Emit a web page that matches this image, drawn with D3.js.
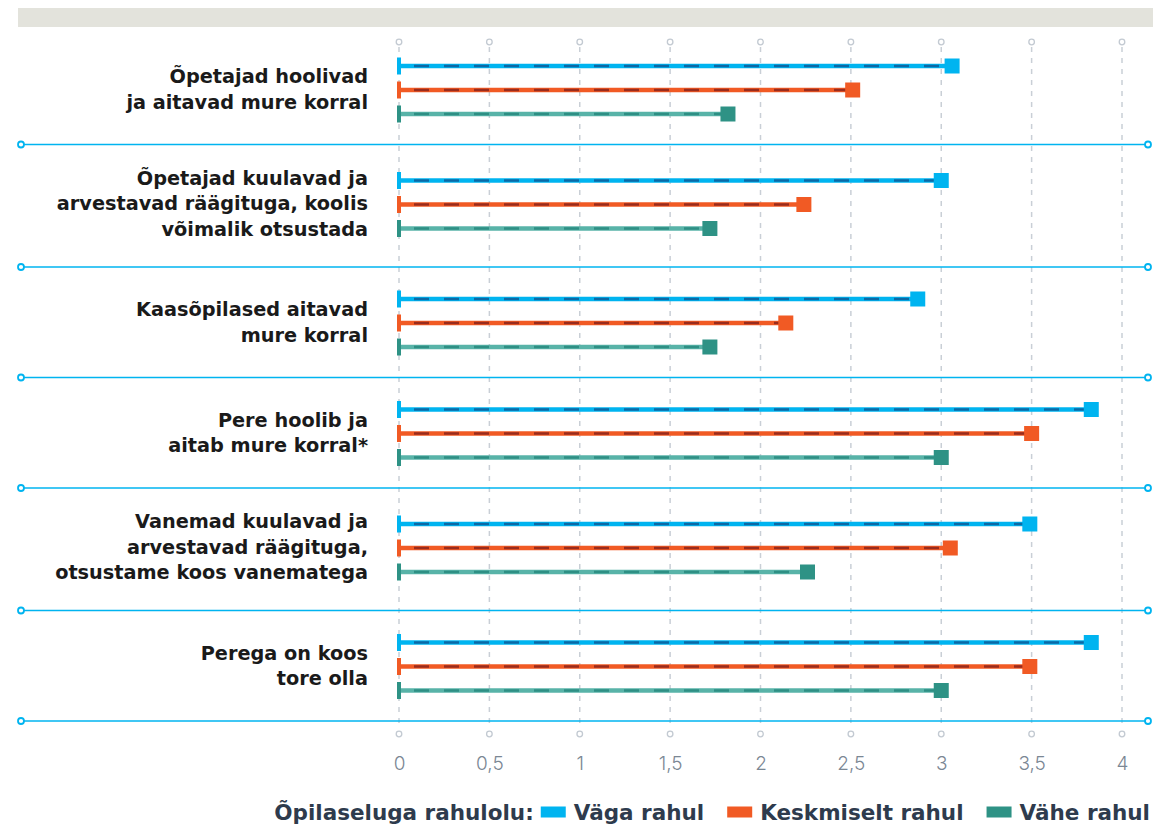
<!DOCTYPE html>
<html>
<head>
<meta charset="utf-8">
<script src="https://cdn.jsdelivr.net/npm/d3@7"></script>
<style>
  html, body { margin: 0; padding: 0; background: #fff; }
  svg { display: block; font-family: "DejaVu Sans", sans-serif; }
</style>
</head>
<body>
<svg id="chart" width="1153" height="825"></svg>
<script>
// Statements (label lines) and mean scores per satisfaction group
const categories = [
  ["Õpetajad hoolivad", "ja aitavad mure korral"],
  ["Õpetajad kuulavad ja", "arvestavad räägituga, koolis", "võimalik otsustada"],
  ["Kaasõpilased aitavad", "mure korral"],
  ["Pere hoolib ja", "aitab mure korral*"],
  ["Vanemad kuulavad ja", "arvestavad räägituga,", "otsustame koos vanematega"],
  ["Perega on koos", "tore olla"]
];
const seriesNames = ["Väga rahul", "Keskmiselt rahul", "Vähe rahul"];
const vagaRahul = [3.06, 3.00, 2.87, 3.83, 3.49, 3.83];
const keskmiseltRahul = [2.51, 2.24, 2.14, 3.50, 3.05, 3.49];
const vaheRahul = [1.82, 1.72, 1.72, 3.00, 2.26, 3.00];
const tickValues = [0, 0.5, 1, 1.5, 2, 2.5, 3, 3.5, 4];
const legendTitle = "Õpilaseluga rahulolu:";

const series = [
  { name: seriesNames[0], values: vagaRahul, base: "#00b4f0", dash: "#0b69a6", mark: "#00b4f0", tick: "#00b4f0" },
  { name: seriesNames[1], values: keskmiseltRahul, base: "#f15a24", dash: "#9a2c1d", mark: "#f15a24", tick: "#f15a24" },
  { name: seriesNames[2], values: vaheRahul, base: "#58b3a8", dash: "#2e8f84", mark: "#2e9285", tick: "#2e9285" }
];

const svg = d3.select("#chart");

// Top decorative band
svg.append("rect").attr("x", 18).attr("y", 8).attr("width", 1135).attr("height", 19).attr("fill", "#e3e3dc");

// Horizontal value scale
const x = d3.scaleLinear().domain([0, 4]).range([399, 1122]);

// Vertical layout: each group gets height depending on its number of label lines
const layoutTop = 34;
const groupHeight = n => n >= 3 ? 122.5 : 110.5;
const groups = [];
let acc = layoutTop;
categories.forEach((lines, i) => {
  const h = groupHeight(lines.length);
  groups.push({ i, lines, y0: acc, y1: acc + h });
  acc += h;
});
const center = g => g.y0 + (g.lines.length >= 3 ? 60 : 56);
const rowOffset = d3.scalePoint().domain(d3.range(series.length)).range([-24, 24]);

// Grid lines
const gridTop = 42, gridBottom = 734;
const grid = svg.append("g");
tickValues.forEach(v => {
  grid.append("line")
    .attr("x1", x(v)).attr("x2", x(v))
    .attr("y1", gridTop + 5).attr("y2", gridBottom - 5)
    .attr("stroke", "#c9cfd6").attr("stroke-width", 1.5)
    .attr("stroke-dasharray", "5 6");
  [gridTop, gridBottom].forEach(cy => {
    grid.append("circle").attr("cx", x(v)).attr("cy", cy).attr("r", 2.8)
      .attr("fill", "#fff").attr("stroke", "#c3cad2").attr("stroke-width", 1.3);
  });
});

// Axis labels
const axis = d3.axisBottom(x).tickValues(tickValues).tickSize(0).tickPadding(0)
  .tickFormat(d => String(d).replace(".", ","));
const axisG = svg.append("g").attr("transform", "translate(0,756)").call(axis);
axisG.select(".domain").remove();
axisG.selectAll("text")
  .attr("fill", "#7b8794").attr("font-size", 19).attr("font-weight", 300)
  .attr("font-family", "Inter, sans-serif")
  .attr("dy", "0.71em").attr("y", 0);

// Group separators
groups.forEach(g => {
  const y = g.y1;
  svg.append("line").attr("x1", 21).attr("x2", 1148).attr("y1", y).attr("y2", y)
    .attr("stroke", "#00b4f0").attr("stroke-width", 1.6);
  [21, 1148].forEach(cx => svg.append("circle").attr("cx", cx).attr("cy", y).attr("r", 3)
    .attr("fill", "#fff").attr("stroke", "#00b4f0").attr("stroke-width", 1.8));
});

// Category labels
groups.forEach(g => {
  const c = center(g) - 1;
  const n = g.lines.length;
  const lh = 25.5;
  const t = svg.append("text").attr("text-anchor", "end")
    .attr("font-size", 19.3).attr("font-weight", 700).attr("fill", "#1a1a1a");
  g.lines.forEach((line, k) => {
    t.append("tspan").attr("x", 368).attr("y", c + (k - (n - 1) / 2) * lh).attr("dy", "0.36em").text(line);
  });
});

// Lollipops
groups.forEach(g => {
  const c = center(g);
  series.forEach((s, si) => {
    const y = c + rowOffset(si);
    const v = s.values[g.i];
    const gg = svg.append("g");
    gg.append("line").attr("x1", x(0)).attr("x2", x(v)).attr("y1", y).attr("y2", y)
      .attr("stroke", s.base).attr("stroke-width", 4.5);
    gg.append("line").attr("x1", x(0)).attr("x2", x(v)).attr("y1", y).attr("y2", y)
      .attr("stroke", s.dash).attr("stroke-width", 2.6)
      .attr("stroke-dasharray", "15 15").attr("stroke-dashoffset", 15);
    gg.append("rect").attr("x", x(0) - 2).attr("y", y - 8.5).attr("width", 4).attr("height", 17)
      .attr("fill", s.tick);
    gg.append("rect").attr("x", x(v) - 7.5).attr("y", y - 7.5).attr("width", 15).attr("height", 15)
      .attr("fill", s.mark);
  });
});

// Legend, right-aligned
const legend = svg.append("g");
const ly = 812;
const lfs = 21.5;
const titleT = legend.append("text").attr("font-size", lfs).attr("font-weight", 700)
  .attr("fill", "#2e3b4d").attr("dy", "0.36em").attr("y", ly).text(legendTitle);
const items = series.map(s => {
  const sw = legend.append("rect").attr("width", 25).attr("height", 11).attr("y", ly - 5.5).attr("fill", s.mark);
  const tx = legend.append("text").attr("font-size", lfs).attr("font-weight", 700)
    .attr("fill", "#2e3b4d").attr("dy", "0.36em").attr("y", ly).text(s.name);
  return { sw, tx };
});
let total = titleT.node().getComputedTextLength();
items.forEach((it, k) => { total += 7 + 25 + 8 + it.tx.node().getComputedTextLength() + (k < items.length - 1 ? 16 : 0); });
let cx = 1150 - total;
titleT.attr("x", cx); cx += titleT.node().getComputedTextLength() + 7;
items.forEach((it, k) => {
  it.sw.attr("x", cx); cx += 25 + 8;
  it.tx.attr("x", cx); cx += it.tx.node().getComputedTextLength() + 16 + 7;
});
</script>
</body>
</html>
